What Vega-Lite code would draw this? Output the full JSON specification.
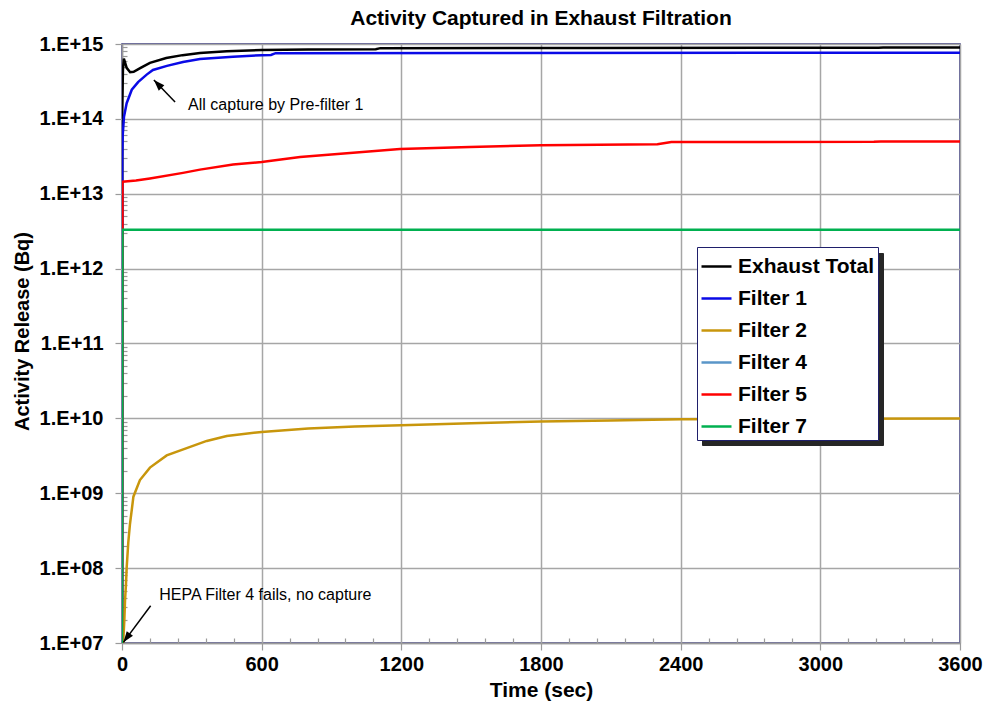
{
  "$schema": "https://vega.github.io/schema/vega-lite/v6.json",
  "width": 838,
  "height": 599,
  "autosize": "none",
  "padding": {"left": 122, "top": 44, "right": 27, "bottom": 70},
  "background": "white",
  "title": {"text": "Activity Captured in Exhaust Filtration", "font": "Liberation Sans", "fontSize": 21, "fontWeight": "bold", "color": "black", "anchor": "middle", "offset": 5},
  "config": {
    "view": {"stroke": "#2b2b7a", "strokeWidth": 1.5},
    "font": "Liberation Sans"
  },
  "datasets": {
    "lines": [
      {"series": "Exhaust Total", "t": 0, "v": 1e7},
      {"series": "Exhaust Total", "t": 1, "v": 1.3e14},
      {"series": "Exhaust Total", "t": 4, "v": 4.5e14},
      {"series": "Exhaust Total", "t": 8, "v": 6.4e14},
      {"series": "Exhaust Total", "t": 12, "v": 5.8e14},
      {"series": "Exhaust Total", "t": 20, "v": 4.8e14},
      {"series": "Exhaust Total", "t": 35, "v": 4.2e14},
      {"series": "Exhaust Total", "t": 50, "v": 4.25e14},
      {"series": "Exhaust Total", "t": 80, "v": 4.8e14},
      {"series": "Exhaust Total", "t": 120, "v": 5.6e14},
      {"series": "Exhaust Total", "t": 190, "v": 6.5e14},
      {"series": "Exhaust Total", "t": 260, "v": 7.1e14},
      {"series": "Exhaust Total", "t": 335, "v": 7.6e14},
      {"series": "Exhaust Total", "t": 450, "v": 8.0e14},
      {"series": "Exhaust Total", "t": 600, "v": 8.3e14},
      {"series": "Exhaust Total", "t": 800, "v": 8.45e14},
      {"series": "Exhaust Total", "t": 1090, "v": 8.5e14},
      {"series": "Exhaust Total", "t": 1110, "v": 8.8e14},
      {"series": "Exhaust Total", "t": 2000, "v": 8.85e14},
      {"series": "Exhaust Total", "t": 3250, "v": 8.9e14},
      {"series": "Exhaust Total", "t": 3270, "v": 9.0e14},
      {"series": "Exhaust Total", "t": 3600, "v": 9.0e14},
      {"series": "Filter 1", "t": 0, "v": 1e7},
      {"series": "Filter 1", "t": 1, "v": 3e13},
      {"series": "Filter 1", "t": 3, "v": 6e13},
      {"series": "Filter 1", "t": 8.6, "v": 1.07e14},
      {"series": "Filter 1", "t": 20, "v": 1.62e14},
      {"series": "Filter 1", "t": 42, "v": 2.45e14},
      {"series": "Filter 1", "t": 69, "v": 3.1e14},
      {"series": "Filter 1", "t": 106, "v": 3.9e14},
      {"series": "Filter 1", "t": 133, "v": 4.5e14},
      {"series": "Filter 1", "t": 193, "v": 5.1e14},
      {"series": "Filter 1", "t": 262, "v": 5.75e14},
      {"series": "Filter 1", "t": 335, "v": 6.3e14},
      {"series": "Filter 1", "t": 477, "v": 6.75e14},
      {"series": "Filter 1", "t": 600, "v": 7.1e14},
      {"series": "Filter 1", "t": 640, "v": 7.15e14},
      {"series": "Filter 1", "t": 660, "v": 7.55e14},
      {"series": "Filter 1", "t": 1500, "v": 7.6e14},
      {"series": "Filter 1", "t": 3600, "v": 7.65e14},
      {"series": "Filter 2", "t": 5, "v": 1e7},
      {"series": "Filter 2", "t": 10, "v": 2e7},
      {"series": "Filter 2", "t": 13, "v": 3.7e7},
      {"series": "Filter 2", "t": 17, "v": 6e7},
      {"series": "Filter 2", "t": 20, "v": 1e8},
      {"series": "Filter 2", "t": 27, "v": 2.2e8},
      {"series": "Filter 2", "t": 34, "v": 3.8e8},
      {"series": "Filter 2", "t": 49, "v": 9e8},
      {"series": "Filter 2", "t": 77, "v": 1.5e9},
      {"series": "Filter 2", "t": 120, "v": 2.2e9},
      {"series": "Filter 2", "t": 192, "v": 3.2e9},
      {"series": "Filter 2", "t": 278, "v": 4.0e9},
      {"series": "Filter 2", "t": 364, "v": 5.0e9},
      {"series": "Filter 2", "t": 450, "v": 5.8e9},
      {"series": "Filter 2", "t": 600, "v": 6.6e9},
      {"series": "Filter 2", "t": 800, "v": 7.3e9},
      {"series": "Filter 2", "t": 1000, "v": 7.8e9},
      {"series": "Filter 2", "t": 1200, "v": 8.1e9},
      {"series": "Filter 2", "t": 1500, "v": 8.6e9},
      {"series": "Filter 2", "t": 1800, "v": 9.1e9},
      {"series": "Filter 2", "t": 2100, "v": 9.4e9},
      {"series": "Filter 2", "t": 2400, "v": 9.7e9},
      {"series": "Filter 2", "t": 3000, "v": 9.85e9},
      {"series": "Filter 2", "t": 3600, "v": 9.95e9},
      {"series": "Filter 4", "t": 0, "v": 1e7},
      {"series": "Filter 5", "t": 0, "v": 1e7},
      {"series": "Filter 5", "t": 2, "v": 1.45e13},
      {"series": "Filter 5", "t": 60, "v": 1.5e13},
      {"series": "Filter 5", "t": 120, "v": 1.6e13},
      {"series": "Filter 5", "t": 262, "v": 1.9e13},
      {"series": "Filter 5", "t": 335, "v": 2.1e13},
      {"series": "Filter 5", "t": 477, "v": 2.45e13},
      {"series": "Filter 5", "t": 600, "v": 2.65e13},
      {"series": "Filter 5", "t": 765, "v": 3.1e13},
      {"series": "Filter 5", "t": 1194, "v": 3.95e13},
      {"series": "Filter 5", "t": 1495, "v": 4.2e13},
      {"series": "Filter 5", "t": 1800, "v": 4.45e13},
      {"series": "Filter 5", "t": 2300, "v": 4.6e13},
      {"series": "Filter 5", "t": 2360, "v": 4.9e13},
      {"series": "Filter 5", "t": 3230, "v": 4.95e13},
      {"series": "Filter 5", "t": 3260, "v": 5.0e13},
      {"series": "Filter 5", "t": 3600, "v": 5.0e13},
      {"series": "Filter 7", "t": 0, "v": 1e7},
      {"series": "Filter 7", "t": 2, "v": 3.3e12},
      {"series": "Filter 7", "t": 3600, "v": 3.3e12}
    ],
    "entries": [
      {"entry": "Exhaust Total"},
      {"entry": "Filter 1"},
      {"entry": "Filter 2"},
      {"entry": "Filter 4"},
      {"entry": "Filter 5"},
      {"entry": "Filter 7"}
    ],
    "arrows": [
      {"id": "a1", "t": 228, "v": 1.68e14, "t2": 137, "v2": 3.3e14},
      {"id": "a2", "t": 123, "v": 3.15e7, "t2": 6, "v2": 1.02e7}
    ],
    "notes": [
      {"label": "All capture by Pre-filter 1", "t": 284, "v": 1.53e14},
      {"label": "HEPA Filter 4 fails, no capture", "t": 160, "v": 4.4e7}
    ]
  },
  "layer": [
    {
      "data": {"name": "lines"},
      "mark": {"type": "line", "strokeWidth": 2.5, "clip": true, "interpolate": "linear"},
      "encoding": {
        "x": {
          "field": "t", "type": "quantitative", "title": "Time (sec)",
          "scale": {"domain": [0, 3600], "nice": false, "zero": false},
          "axis": {
            "values": [0,120,240,360,480,600,720,840,960,1080,1200,1320,1440,1560,1680,1800,1920,2040,2160,2280,2400,2520,2640,2760,2880,3000,3120,3240,3360,3480,3600],
            "tickCount": 1000,
            "format": "d",
            "labelExpr": "datum.value % 600 === 0 ? datum.label : ''",
            "labelFont": "Liberation Sans", "labelFontSize": 20, "labelFontWeight": "bold", "labelColor": "black",
            "labelPadding": 4, "labelFlush": false, "labelOverlap": false,
            "titleFont": "Liberation Sans", "titleFontSize": 21, "titleFontWeight": "bold", "titleColor": "black",
            "titleBaseline": "middle", "titleY": 47,
            "domainColor": "#9a9a9a", "domainWidth": 1.5,
            "tickColor": "#9a9a9a", "tickWidth": 1.2,
            "tickSize": {"condition": {"test": "datum.value % 600 === 0", "value": 7}, "value": -5},
            "grid": true, "gridColor": "#a6a6a6", "gridWidth": 1.5,
            "gridOpacity": {"condition": {"test": "datum.value % 600 === 0", "value": 1}, "value": 0}
          }
        },
        "y": {
          "field": "v", "type": "quantitative", "title": "Activity Release (Bq)",
          "scale": {"type": "log", "domain": [1e7, 1e15], "nice": false},
          "axis": {
            "values": [1e7,2e7,3e7,4e7,5e7,6e7,7e7,8e7,9e7,1e8,2e8,3e8,4e8,5e8,6e8,7e8,8e8,9e8,1e9,2e9,3e9,4e9,5e9,6e9,7e9,8e9,9e9,1e10,2e10,3e10,4e10,5e10,6e10,7e10,8e10,9e10,1e11,2e11,3e11,4e11,5e11,6e11,7e11,8e11,9e11,1e12,2e12,3e12,4e12,5e12,6e12,7e12,8e12,9e12,1e13,2e13,3e13,4e13,5e13,6e13,7e13,8e13,9e13,1e14,2e14,3e14,4e14,5e14,6e14,7e14,8e14,9e14,1e15],
            "tickCount": 1000,
            "labelExpr": "abs(log(datum.value)/LN10 - round(log(datum.value)/LN10)) < 0.001 ? '1.E+' + (round(log(datum.value)/LN10) < 10 ? '0' : '') + round(log(datum.value)/LN10) : ''",
            "labelFont": "Liberation Sans", "labelFontSize": 20, "labelFontWeight": "bold", "labelColor": "black",
            "labelPadding": 12, "labelFlush": false, "labelOverlap": false,
            "titleFont": "Liberation Sans", "titleFontSize": 20, "titleFontWeight": "bold", "titleColor": "black",
            "titleX": -100, "titleY": 287, "titleAlign": "center", "titleBaseline": "middle", "titleAngle": -90,
            "domainColor": "#9a9a9a", "domainWidth": 1.5,
            "tickColor": "#9a9a9a", "tickWidth": 1.2,
            "tickSize": {"condition": {"test": "abs(log(datum.value)/LN10 - round(log(datum.value)/LN10)) < 0.001", "value": 7}, "value": -5},
            "grid": true, "gridColor": "#a6a6a6", "gridWidth": 1.5,
            "gridOpacity": {"condition": {"test": "abs(log(datum.value)/LN10 - round(log(datum.value)/LN10)) < 0.001", "value": 1}, "value": 0}
          }
        },
        "color": {
          "field": "series", "type": "nominal",
          "scale": {"domain": ["Exhaust Total", "Filter 1", "Filter 2", "Filter 4", "Filter 5", "Filter 7"], "range": ["#000000", "#0a0ae6", "#c8960c", "#5a96c8", "#ff0000", "#00b050"]},
          "legend": {
            "orient": "none", "legendX": 575, "legendY": 203, "title": null, "zindex": 2,
            "symbolType": "stroke", "symbolSize": 900, "symbolStrokeWidth": 2.5,
            "labelFont": "Liberation Sans", "labelFontSize": 21, "labelFontWeight": "bold", "labelColor": "black",
            "labelOffset": 5, "labelLimit": 300, "padding": 3, "rowPadding": 5,
            "strokeColor": "#1f1f6b", "fillColor": "white"
          }
        }
      }
    },
    {
      "data": {"name": "entries"},
      "mark": {"type": "point", "opacity": 0},
      "encoding": {
        "shape": {
          "field": "entry", "type": "nominal",
          "scale": {"range": ["M-1,-1H10.3V1H-1Z"]},
          "legend": {
            "orient": "none", "legendX": 580, "legendY": 209, "title": null, "zindex": 1,
            "symbolSize": 1024, "symbolOpacity": 0, "symbolStrokeWidth": 0,
            "labelExpr": "''", "labelFontSize": 1, "labelOffset": 0,
            "padding": 0, "rowPadding": 0,
            "strokeColor": "#262626", "fillColor": "#262626"
          }
        }
      }
    },
    {
      "data": {"name": "arrows"},
      "mark": {"type": "rule", "color": "black", "strokeWidth": 1.5},
      "encoding": {
        "x": {"field": "t", "type": "quantitative", "title": "Time (sec)"},
        "y": {"field": "v", "type": "quantitative", "title": "Activity Release (Bq)"},
        "x2": {"field": "t2"},
        "y2": {"field": "v2"}
      }
    },
    {
      "data": {"name": "arrows"},
      "transform": [{"filter": "datum.id === 'a1'"}],
      "mark": {"type": "point", "shape": "M0,0L-0.7,2L0.7,2Z", "filled": true, "color": "black", "opacity": 1, "size": 121, "angle": 316},
      "encoding": {
        "x": {"field": "t2", "type": "quantitative", "title": "Time (sec)"},
        "y": {"field": "v2", "type": "quantitative", "title": "Activity Release (Bq)"}
      }
    },
    {
      "data": {"name": "arrows"},
      "transform": [{"filter": "datum.id === 'a2'"}],
      "mark": {"type": "point", "shape": "M0,0L-0.7,2L0.7,2Z", "filled": true, "color": "black", "opacity": 1, "size": 121, "angle": 216},
      "encoding": {
        "x": {"field": "t2", "type": "quantitative", "title": "Time (sec)"},
        "y": {"field": "v2", "type": "quantitative", "title": "Activity Release (Bq)"}
      }
    },
    {
      "data": {"name": "notes"},
      "mark": {"type": "text", "align": "left", "baseline": "middle", "font": "Liberation Sans", "fontSize": 16, "color": "black"},
      "encoding": {
        "x": {"field": "t", "type": "quantitative", "title": "Time (sec)"},
        "y": {"field": "v", "type": "quantitative", "title": "Activity Release (Bq)"},
        "text": {"field": "label"}
      }
    }
  ]
}
